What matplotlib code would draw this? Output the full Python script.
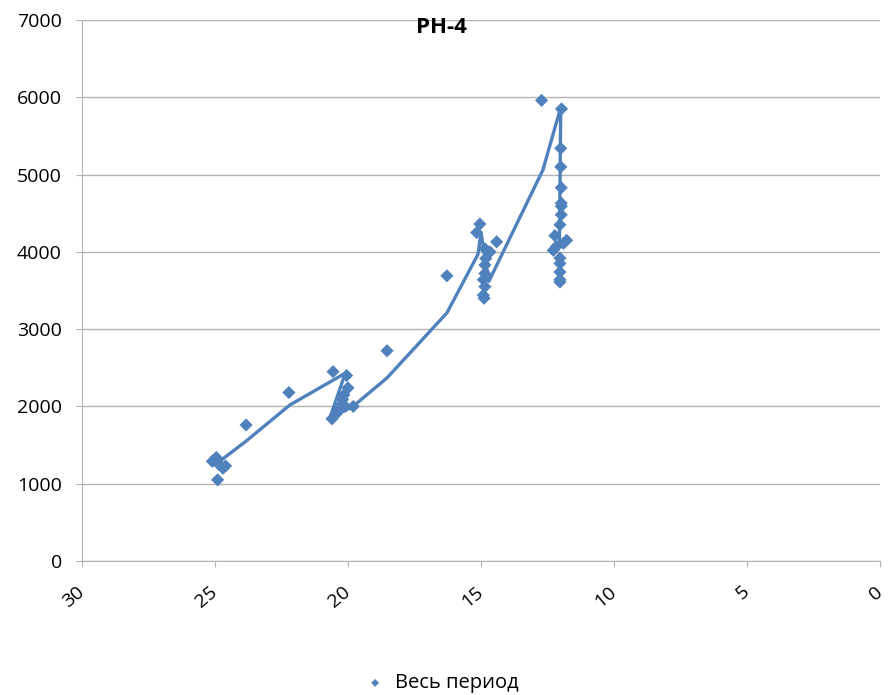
import matplotlib.pyplot as plt

plt.rcParams['font.family'] = ['Open Sans', 'DejaVu Sans']

# scatter points (x, y)
pts_x = [25.1, 24.95, 24.85, 24.7, 24.6, 24.9,
         23.83, 22.22, 20.56, 20.05, 20.0,
         20.6, 20.45, 20.35, 20.25, 20.2, 20.15, 20.1, 19.8,
         18.53, 16.28,
         15.04, 15.16, 14.41, 14.85, 14.66, 14.82, 14.85, 14.85, 14.91, 14.85, 14.91, 14.88,
         12.72, 11.97, 12.0, 12.0, 11.98, 11.98, 11.98, 11.98, 12.03, 12.22, 11.78, 11.9,
         12.28, 12.16, 12.03, 12.03, 12.03, 12.03, 12.03]
pts_y = [1290, 1340, 1250, 1200, 1230, 1050,
         1760, 2180, 2450, 2400, 2240,
         1840, 1900, 1960, 2020, 2090, 2150, 2000, 2000,
         2720, 3690,
         4360, 4250, 4130, 4040, 4000, 3915, 3830, 3720, 3640, 3550, 3440, 3400,
         5960, 5850, 5340, 5100, 4830, 4630, 4590, 4480, 4350, 4210, 4150, 4110,
         4020, 4070, 3920, 3850, 3740, 3640, 3610]

# line series
line_x = [24.9, 23.87, 22.18, 20.1, 20.68, 19.81, 18.53, 16.28, 15.11, 15.0, 14.7, 12.67, 12.0, 12.05]
line_y = [1270, 1540, 2020, 2430, 1850, 2000, 2370, 3210, 3970, 4250, 3620, 5060, 5870, 4100]

blue = '#4F81BD'

fig = plt.figure(figsize=(8.88, 6.95), dpi=100)
ax = fig.add_axes([0.0923, 0.1928, 0.8986, 0.7784])

ax.plot(line_x, line_y, color=blue, lw=2.4, solid_joinstyle='round', zorder=2)
ax.scatter(pts_x, pts_y, marker='D', s=45, color=blue, edgecolors='none', zorder=3,
           label='Весь период')

ax.set_xlim(30, 0)
ax.set_ylim(0, 7000)
ax.set_xticks(range(30, -1, -5))
ax.set_yticks(range(0, 7001, 1000))
ax.grid(axis='y', color='#b3b3b3', lw=1)
ax.set_axisbelow(True)
for s in ['top', 'right']:
    ax.spines[s].set_visible(False)
for s in ['left', 'bottom']:
    ax.spines[s].set_color('#b3b3b3')
ax.tick_params(axis='both', colors='#b3b3b3', labelcolor='black', labelsize=14, length=4.5)
ax.tick_params(axis='y', pad=10)
ax.tick_params(axis='x', pad=16)
for lab in ax.get_xticklabels():
    lab.set_rotation(40)
    lab.set_ha('right')
    lab.set_va('center')
    lab.set_rotation_mode('anchor')

fig.text(0.497, 0.96, 'РН-4', ha='center', va='center', fontsize=16, fontweight='bold')

fig.legend(loc='center', bbox_to_anchor=(0.492, 0.017), frameon=False, fontsize=14.5,
           handletextpad=0.0, markerscale=0.6)

fig.savefig('out.png', dpi=100)
